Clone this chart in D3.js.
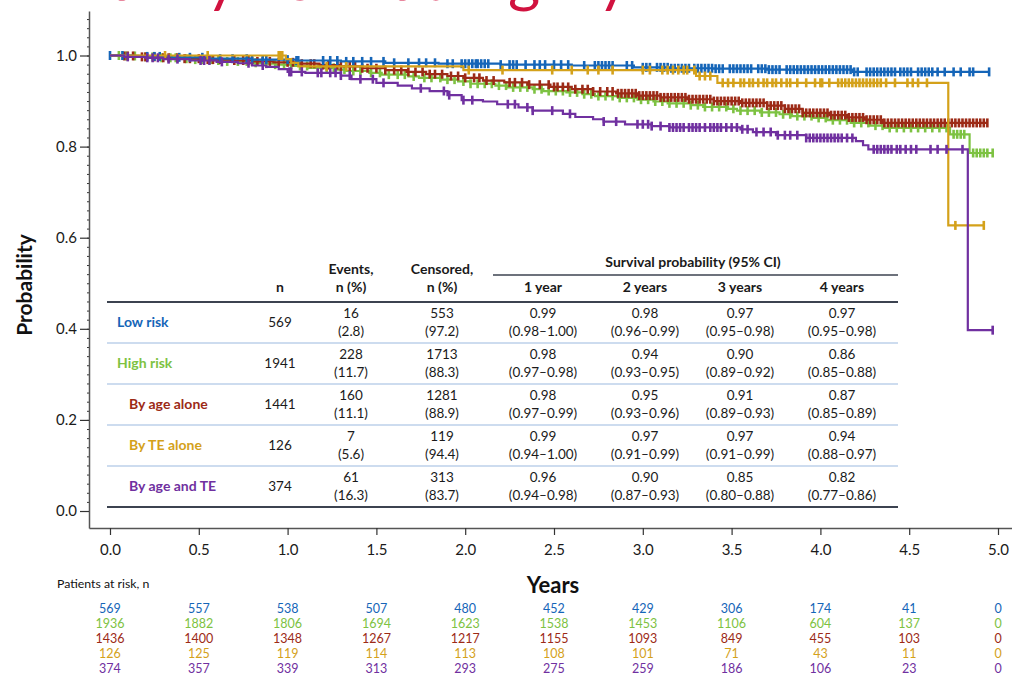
<!DOCTYPE html>
<html>
<head>
<meta charset="utf-8">
<script src="https://cdnjs.cloudflare.com/ajax/libs/d3/7.8.5/d3.min.js"></script>
<style>
body{margin:0;background:#fff;}
svg{display:block;font-family:Lato,"Open Sans",sans-serif;}
</style>
</head>
<body>
<svg id="chart" width="1012" height="675"></svg>
<script>
"use strict";

// groups
var groupNames = ["Low risk", "High risk", "By age alone", "By TE alone", "By age and TE"];
var groupColors = ["#1565b8", "#7dc242", "#9c2a16", "#d4a11a", "#7030a0"];
var groupIndent = [false, false, true, true, true];

// KM steps [years, survival]
var lowEvents = [[0.12,0.998],[0.35,0.996],[0.55,0.993],[0.8,0.991],[1.05,0.989],[1.3,0.987],[1.55,0.984],[1.85,0.982],[2.2,0.98],[2.6,0.978],[2.95,0.974],[3.15,0.972],[3.4,0.971],[3.7,0.969],[4.18,0.964]];
var lowCensored = [0.0,0.07,0.21,0.25,0.28,0.39,0.45,0.52,0.62,0.69,0.77,0.8,0.86,0.88,1.0,1.05,1.06,1.2,1.24,1.28,1.33,1.37,1.42,1.47,1.54,1.6,1.68,1.74,1.78,1.83,1.9,1.93,1.98,2.0,2.02,2.04,2.06,2.07,2.09,2.11,2.13,2.2,2.25,2.27,2.29,2.34,2.39,2.42,2.45,2.5,2.54,2.58,2.67,2.73,2.75,2.77,2.79,2.81,2.83,2.91,2.94,3.0,3.02,3.04,3.08,3.1,3.12,3.14,3.16,3.18,3.2,3.22,3.24,3.26,3.29,3.31,3.33,3.35,3.37,3.39,3.41,3.43,3.45,3.49,3.51,3.53,3.55,3.57,3.59,3.61,3.65,3.67,3.69,3.71,3.73,3.75,3.77,3.81,3.83,3.85,3.87,3.89,3.91,3.93,3.95,3.97,3.99,4.01,4.03,4.05,4.07,4.09,4.11,4.13,4.15,4.17,4.19,4.21,4.26,4.28,4.3,4.32,4.34,4.36,4.38,4.4,4.42,4.45,4.47,4.49,4.51,4.55,4.57,4.59,4.61,4.63,4.66,4.7,4.75,4.79,4.84,4.86,4.95];
var lowEnd = 4.95;

var highEvents = [[0.07,0.999],[0.18,0.997],[0.26,0.995],[0.4,0.993],[0.47,0.991],[0.58,0.989],[0.66,0.987],[0.78,0.984],[0.86,0.982],[0.93,0.98],[1.04,0.977],[1.12,0.973],[1.27,0.969],[1.33,0.966],[1.46,0.962],[1.53,0.958],[1.68,0.954],[1.74,0.951],[1.87,0.947],[1.96,0.943],[2.03,0.938],[2.17,0.934],[2.24,0.93],[2.38,0.926],[2.44,0.922],[2.57,0.919],[2.66,0.915],[2.73,0.911],[2.86,0.907],[2.97,0.903],[3.06,0.899],[3.14,0.895],[3.27,0.891],[3.34,0.887],[3.48,0.883],[3.53,0.879],[3.66,0.875],[3.77,0.871],[3.84,0.867],[3.96,0.863],[4.04,0.858],[4.17,0.852],[4.28,0.846],[4.36,0.841],[4.73,0.827],[4.84,0.786]];
var highCensored = [0.05,0.09,0.14,0.2,0.24,0.29,0.34,0.37,0.43,0.48,0.52,0.57,0.61,0.66,0.72,0.77,0.82,0.88,0.93,0.98,1.02,1.07,1.11,1.17,1.22,1.26,1.32,1.37,1.41,1.47,1.52,1.57,1.62,1.66,1.71,1.77,1.81,1.86,1.9,1.94,1.99,2.03,2.07,2.11,2.15,2.19,2.23,2.27,2.31,2.35,2.39,2.43,2.47,2.51,2.55,2.59,2.63,2.67,2.71,2.75,2.79,2.83,2.87,2.91,2.95,2.99,3.03,3.07,3.11,3.15,3.19,3.23,3.27,3.31,3.35,3.39,3.43,3.47,3.51,3.55,3.59,3.63,3.67,3.71,3.75,3.79,3.83,3.87,3.91,3.95,3.99,4.03,4.07,4.11,4.15,4.19,4.23,4.27,4.31,4.35,4.39,4.43,4.47,4.51,4.55,4.59,4.63,4.67,4.71,4.75,4.77,4.79,4.81,4.86,4.88,4.9,4.92,4.94,4.97];
var highEnd = 4.97;

var ageEvents = [[0.06,0.999],[0.16,0.997],[0.3,0.995],[0.42,0.993],[0.55,0.991],[0.68,0.989],[0.8,0.987],[0.92,0.985],[1.05,0.982],[1.18,0.979],[1.3,0.976],[1.42,0.972],[1.55,0.968],[1.67,0.964],[1.78,0.959],[1.9,0.955],[1.99,0.951],[2.1,0.945],[2.22,0.941],[2.35,0.936],[2.48,0.931],[2.6,0.926],[2.72,0.921],[2.85,0.917],[2.97,0.912],[3.1,0.908],[3.25,0.904],[3.4,0.9],[3.55,0.896],[3.7,0.89],[3.8,0.883],[3.9,0.874],[4.05,0.869],[4.15,0.864],[4.25,0.859],[4.35,0.852]];
var ageCensored = [0.08,0.1,0.13,0.18,0.2,0.25,0.3,0.33,0.38,0.42,0.45,0.5,0.55,0.58,0.62,0.7,0.75,0.78,0.8,0.83,0.86,0.9,0.95,1.0,1.03,1.08,1.13,1.15,1.2,1.23,1.28,1.3,1.35,1.38,1.42,1.45,1.5,1.55,1.6,1.64,1.68,1.72,1.76,1.8,1.83,1.87,1.92,1.96,2.0,2.05,2.08,2.12,2.16,2.25,2.28,2.32,2.36,2.42,2.47,2.5,2.52,2.55,2.58,2.62,2.66,2.69,2.72,2.76,2.8,2.83,2.86,2.88,2.9,2.92,2.94,2.96,2.98,3.0,3.02,3.04,3.06,3.08,3.1,3.12,3.14,3.16,3.18,3.2,3.22,3.24,3.26,3.28,3.3,3.32,3.34,3.36,3.38,3.4,3.42,3.44,3.46,3.48,3.5,3.52,3.54,3.56,3.58,3.6,3.62,3.64,3.66,3.68,3.7,3.72,3.74,3.76,3.78,3.8,3.82,3.84,3.86,3.88,3.9,3.92,3.94,3.96,3.98,4.0,4.02,4.04,4.06,4.08,4.1,4.12,4.14,4.16,4.18,4.2,4.22,4.24,4.26,4.28,4.3,4.32,4.34,4.36,4.38,4.4,4.42,4.44,4.46,4.48,4.5,4.52,4.54,4.56,4.58,4.6,4.62,4.64,4.66,4.68,4.7,4.72,4.74,4.76,4.78,4.8,4.82,4.84,4.86,4.88,4.9,4.92,4.94];
var ageEnd = 4.94;

var teEvents = [[0.99,0.992],[1.02,0.984],[1.06,0.976],[1.99,0.968],[3.3,0.955],[3.42,0.94],[4.72,0.627]];
var teCensored = [0.31,0.55,0.95,0.96,0.97,1.22,1.33,2.02,2.21,2.49,2.6,2.69,2.75,2.83,3.0,3.04,3.11,3.14,3.17,3.2,3.23,3.25,3.29,3.32,3.35,3.38,3.45,3.48,3.51,3.55,3.57,3.6,3.62,3.65,3.68,3.7,3.73,3.75,3.78,3.81,3.83,3.87,3.92,3.97,4.0,4.01,4.05,4.1,4.12,4.14,4.16,4.18,4.2,4.22,4.24,4.26,4.28,4.3,4.32,4.34,4.37,4.42,4.49,4.52,4.55,4.6,4.76,4.92];
var teEnd = 4.92;

var bothEvents = [[0.08,0.997],[0.2,0.995],[0.3,0.992],[0.45,0.989],[0.6,0.986],[0.72,0.983],[0.8,0.978],[0.88,0.975],[0.95,0.97],[1.0,0.964],[1.1,0.962],[1.3,0.956],[1.36,0.948],[1.5,0.94],[1.62,0.934],[1.7,0.928],[1.8,0.922],[1.9,0.913],[1.98,0.902],[2.1,0.899],[2.18,0.893],[2.3,0.886],[2.38,0.879],[2.55,0.872],[2.62,0.865],[2.72,0.86],[2.78,0.855],[2.9,0.849],[3.05,0.845],[3.15,0.842],[3.55,0.838],[3.62,0.832],[3.75,0.825],[3.92,0.819],[4.2,0.812],[4.24,0.803],[4.27,0.794],[4.83,0.397]];
var bothCensored = [0.1,0.21,0.24,0.27,0.33,0.38,0.51,0.53,0.56,0.63,0.78,0.86,1.01,1.02,1.08,1.17,1.19,1.24,1.27,1.3,1.35,1.41,1.48,1.54,1.75,1.88,1.91,1.99,2.04,2.24,2.28,2.35,2.38,2.49,2.59,2.78,2.85,2.97,3.0,3.03,3.05,3.1,3.15,3.17,3.19,3.21,3.23,3.26,3.28,3.3,3.32,3.35,3.38,3.4,3.42,3.44,3.47,3.5,3.53,3.56,3.59,3.64,3.68,3.72,3.76,3.8,3.83,3.87,3.92,3.94,3.96,3.98,4.0,4.02,4.04,4.06,4.08,4.1,4.12,4.15,4.18,4.3,4.32,4.34,4.36,4.38,4.4,4.43,4.45,4.48,4.51,4.54,4.62,4.66,4.71,4.8,4.97];
var bothEnd = 4.97;

// patients at risk
var riskTimes = [0, 0.5, 1.0, 1.5, 2.0, 2.5, 3.0, 3.5, 4.0, 4.5, 5.0];
var riskLow = [569, 557, 538, 507, 480, 452, 429, 306, 174, 41, 0];
var riskHigh = [1936, 1882, 1806, 1694, 1623, 1538, 1453, 1106, 604, 137, 0];
var riskAge = [1436, 1400, 1348, 1267, 1217, 1155, 1093, 849, 455, 103, 0];
var riskTe = [126, 125, 119, 114, 113, 108, 101, 71, 43, 11, 0];
var riskBoth = [374, 357, 339, 313, 293, 275, 259, 186, 106, 23, 0];

// summary table
var tableN = [569, 1941, 1441, 126, 374];
var tableEvents = ["16", "228", "160", "7", "61"];
var tableEventsPct = ["(2.8)", "(11.7)", "(11.1)", "(5.6)", "(16.3)"];
var tableCensored = ["553", "1713", "1281", "119", "313"];
var tableCensoredPct = ["(97.2)", "(88.3)", "(88.9)", "(94.4)", "(83.7)"];
var survYears = ["1 year", "2 years", "3 years", "4 years"];
var survEst = [
  ["0.99", "0.98", "0.97", "0.97"],
  ["0.98", "0.94", "0.90", "0.86"],
  ["0.98", "0.95", "0.91", "0.87"],
  ["0.99", "0.97", "0.97", "0.94"],
  ["0.96", "0.90", "0.85", "0.82"]
];
var survCI = [
  ["(0.98\u20131.00)", "(0.96\u20130.99)", "(0.95\u20130.98)", "(0.95\u20130.98)"],
  ["(0.97\u20130.98)", "(0.93\u20130.95)", "(0.89\u20130.92)", "(0.85\u20130.88)"],
  ["(0.97\u20130.99)", "(0.93\u20130.96)", "(0.89\u20130.93)", "(0.85\u20130.89)"],
  ["(0.94\u20131.00)", "(0.91\u20130.99)", "(0.91\u20130.99)", "(0.88\u20130.97)"],
  ["(0.94\u20130.98)", "(0.87\u20130.93)", "(0.80\u20130.88)", "(0.77\u20130.86)"]
];

var svg = d3.select("#chart");

var x = d3.scaleLinear().domain([-0.1182, 5.0788]).range([89, 1012]);
var y = d3.scaleLinear().domain([-0.0373, 1.0977]).range([528, 11]);

// title, cut off by the top edge (only descenders show)
var titleColor = "#d1123f";
var title = svg.append("g").attr("font-size", 62).attr("fill", titleColor);
title.append("text").attr("x", 238).attr("y", 0).attr("text-anchor", "end").text("Survival by");
title.append("text").attr("x", 250).attr("y", 0).text("risk cate");
title.append("text").attr("x", 508).attr("y", 0).text("gory");

// axes
var yMinor = svg.append("g").attr("transform", "translate(89,0)")
  .call(d3.axisLeft(y).tickValues(d3.range(0, 1.09, 0.02)).tickSize(2).tickFormat(""));
yMinor.select(".domain").remove();
yMinor.selectAll("line").attr("stroke", "#333");

var gy = svg.append("g").attr("transform", "translate(89,0)")
  .call(d3.axisLeft(y).tickValues([0, 0.2, 0.4, 0.6, 0.8, 1.0]).tickFormat(d3.format(".1f"))
    .tickSize(9).tickSizeOuter(0).tickPadding(3));

var gx = svg.append("g").attr("transform", "translate(0,528)")
  .call(d3.axisBottom(x).tickValues(riskTimes).tickFormat(d3.format(".1f"))
    .tickSize(7).tickSizeOuter(0).tickPadding(9));

[gx, gy].forEach(function(g){
  g.select(".domain").attr("stroke", "#555").attr("stroke-width", 1.5);
  g.selectAll(".tick line").attr("stroke", "#333").attr("stroke-width", 1.2);
  g.selectAll(".tick text").attr("font-family", "Lato, 'Open Sans', sans-serif")
    .attr("font-size", 15).attr("fill", "#1a1a1a");
});

svg.append("text").attr("transform", "translate(32,285) rotate(-90)")
  .attr("text-anchor", "middle").attr("font-size", 21).attr("font-weight", "bold")
  .attr("fill", "#111").text("Probability");

svg.append("text").attr("x", 553).attr("y", 593).attr("text-anchor", "middle")
  .attr("font-size", 22).attr("font-weight", "bold").attr("fill", "#111").text("Years");

// KM curves
function survAt(events, t){
  var s = 1;
  events.forEach(function(e){ if(e[0] <= t){ s = e[1]; } });
  return s;
}

function renderCurve(parent, events, censored, end, color){
  var pts = [[0, 1]].concat(events);
  pts.push([end, events[events.length - 1][1]]);

  var line = d3.line()
    .x(function(d){ return x(d[0]); })
    .y(function(d){ return y(d[1]); })
    .curve(d3.curveStepAfter);

  var g = parent.append("g");

  g.append("path")
    .attr("d", line(pts))
    .attr("fill", "none")
    .attr("stroke", color)
    .attr("stroke-width", 2.2);

  g.selectAll(".censor")
    .data(censored)
    .enter()
    .append("line")
    .attr("class", "censor")
    .attr("x1", function(t){ return x(t); })
    .attr("x2", function(t){ return x(t); })
    .attr("y1", function(t){ return y(survAt(events, t)) - 4.5; })
    .attr("y2", function(t){ return y(survAt(events, t)) + 4.5; })
    .attr("stroke", color)
    .attr("stroke-width", 2.6);
}

var curves = svg.append("g");
renderCurve(curves, highEvents, highCensored, highEnd, groupColors[1]);
renderCurve(curves, ageEvents, ageCensored, ageEnd, groupColors[2]);
renderCurve(curves, lowEvents, lowCensored, lowEnd, groupColors[0]);
renderCurve(curves, teEvents, teCensored, teEnd, groupColors[3]);
renderCurve(curves, bothEvents, bothCensored, bothEnd, groupColors[4]);

// patients at risk
svg.append("text").attr("x", 57).attr("y", 588).attr("font-size", 12.3)
  .attr("fill", "#111").text("Patients at risk, n");

var riskRows = [riskLow, riskHigh, riskAge, riskTe, riskBoth];
riskRows.forEach(function(row, i){
  svg.append("g").selectAll("text")
    .data(row)
    .enter()
    .append("text")
    .attr("x", function(d, j){ return x(riskTimes[j]); })
    .attr("y", 613 + 15 * i)
    .attr("text-anchor", "middle")
    .attr("font-size", 12.5)
    .attr("fill", groupColors[i])
    .text(function(d){ return d; });
});

// summary table
var table = svg.append("g").attr("font-size", 13.5).attr("fill", "#1a1a1a");
var colN = 280, colEv = 351, colCe = 442;
var colYears = [543, 645, 740, 842];
var darkRule = "#3c4350", lightRule = "#bdd1ea";

function bold(sel){ return sel.attr("font-weight", "bold").attr("font-size", 14); }

bold(table.append("text")).attr("x", 693).attr("y", 267).attr("text-anchor", "middle")
  .text("Survival probability (95% CI)");
table.append("line").attr("x1", 493).attr("x2", 898).attr("y1", 275).attr("y2", 275)
  .attr("stroke", darkRule).attr("stroke-width", 1.5);

bold(table.append("text")).attr("x", colN).attr("y", 292).attr("text-anchor", "middle").text("n");
[[colEv, "Events,"], [colCe, "Censored,"]].forEach(function(h){
  bold(table.append("text")).attr("x", h[0]).attr("y", 274).attr("text-anchor", "middle").text(h[1]);
  bold(table.append("text")).attr("x", h[0]).attr("y", 292).attr("text-anchor", "middle").text("n (%)");
});
survYears.forEach(function(label, k){
  bold(table.append("text")).attr("x", colYears[k]).attr("y", 292).attr("text-anchor", "middle").text(label);
});

table.append("line").attr("x1", 107).attr("x2", 898).attr("y1", 302).attr("y2", 302)
  .attr("stroke", darkRule).attr("stroke-width", 2);

groupNames.forEach(function(name, i){
  var cy = 322 + 41 * i;
  bold(table.append("text")).attr("x", groupIndent[i] ? 129 : 117).attr("y", cy + 5)
    .attr("fill", groupColors[i]).text(name);
  table.append("text").attr("x", colN).attr("y", cy + 5).attr("text-anchor", "middle")
    .text(tableN[i]);
  table.append("text").attr("x", colEv).attr("y", cy - 4).attr("text-anchor", "middle").text(tableEvents[i]);
  table.append("text").attr("x", colEv).attr("y", cy + 14).attr("text-anchor", "middle").text(tableEventsPct[i]);
  table.append("text").attr("x", colCe).attr("y", cy - 4).attr("text-anchor", "middle").text(tableCensored[i]);
  table.append("text").attr("x", colCe).attr("y", cy + 14).attr("text-anchor", "middle").text(tableCensoredPct[i]);
  colYears.forEach(function(cx, k){
    table.append("text").attr("x", cx).attr("y", cy - 4).attr("text-anchor", "middle").text(survEst[i][k]);
    table.append("text").attr("x", cx).attr("y", cy + 14).attr("text-anchor", "middle").text(survCI[i][k]);
  });
  if(i < groupNames.length - 1){
    table.append("line").attr("x1", 107).attr("x2", 898).attr("y1", cy + 21).attr("y2", cy + 21)
      .attr("stroke", lightRule).attr("stroke-width", 1.5);
  }
});

table.append("line").attr("x1", 107).attr("x2", 898).attr("y1", 507).attr("y2", 507)
  .attr("stroke", darkRule).attr("stroke-width", 2);
</script>
</body>
</html>
